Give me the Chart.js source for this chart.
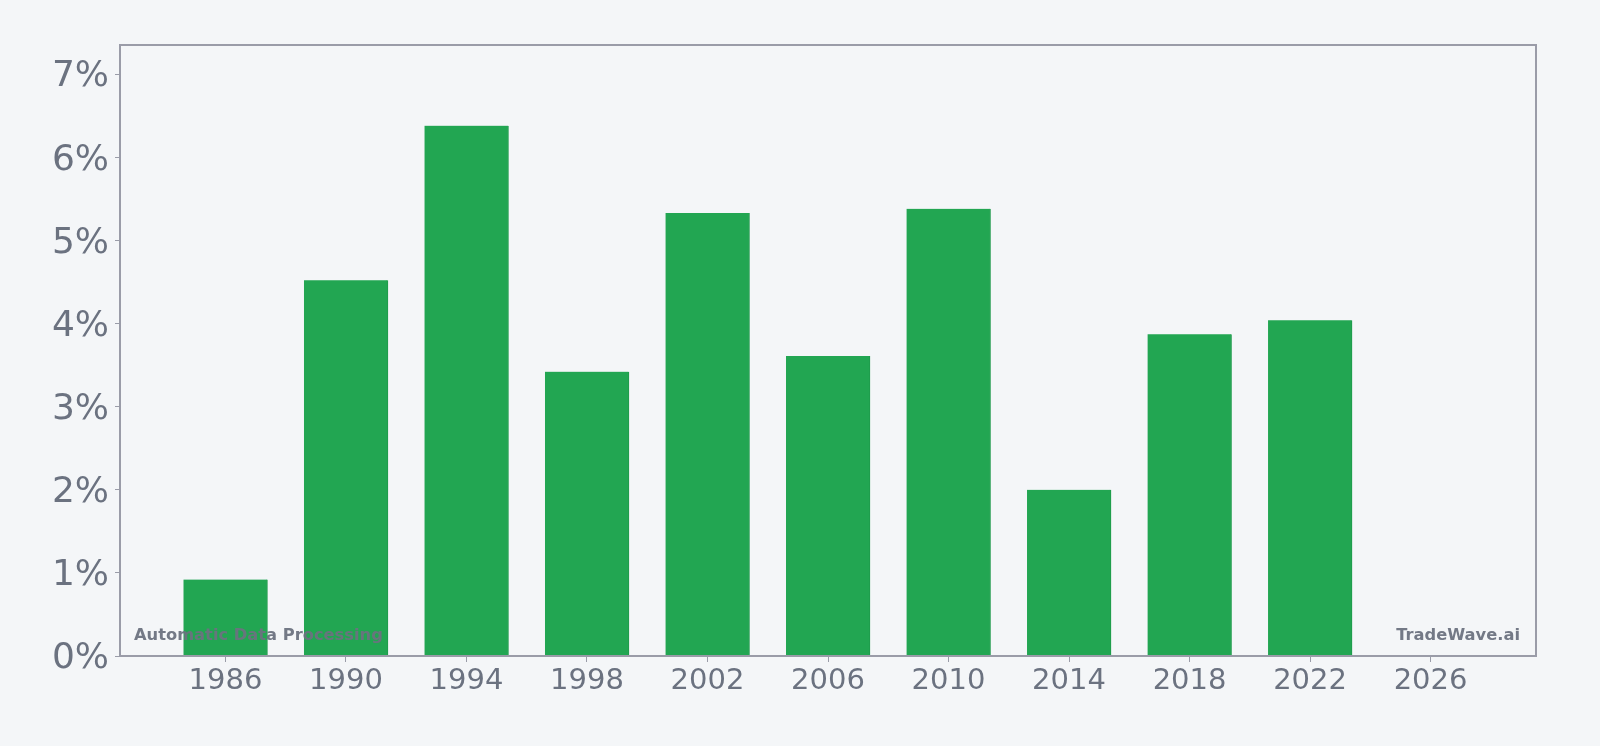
<!DOCTYPE html>
<html>
<head>
<meta charset="utf-8">
<script src="https://cdn.jsdelivr.net/npm/chart.js@4/dist/chart.umd.min.js"></script>
<style>
  html, body { margin: 0; padding: 0; background: #f4f6f8; }
  #wrap { width: 1600px; height: 746px; }
</style>
</head>
<body>
<div id="wrap"><canvas id="chart" width="1600" height="746"></canvas></div>
<script>
// data
const years = [1986, 1990, 1994, 1998, 2002, 2006, 2010, 2014, 2018, 2022];
const values = [0.92, 4.52, 6.38, 3.42, 5.33, 3.61, 5.38, 2.0, 3.87, 4.04];
const xTicks = [1986, 1990, 1994, 1998, 2002, 2006, 2010, 2014, 2018, 2022, 2026];
const yTicks = [0, 1, 2, 3, 4, 5, 6, 7];

const grey = '#6b7280';

// frame round the plot area + watermark texts
const framePlugin = {
  id: 'frame',
  afterDatasetsDraw(chart) {
    const { ctx, chartArea: a } = chart;
    ctx.save();
    ctx.strokeStyle = '#9a9ca8';
    ctx.lineWidth = 2;
    ctx.strokeRect(a.left, a.top, a.right - a.left, a.bottom - a.top);
    ctx.font = 'bold 16.3px "DejaVu Sans"';
    ctx.fillStyle = 'rgba(107,114,128,0.95)';
    ctx.textBaseline = 'alphabetic';
    ctx.textAlign = 'left';
    ctx.fillText('Automatic Data Processing', a.left + 14, a.bottom - 16);
    ctx.textAlign = 'right';
    ctx.fillText('TradeWave.ai', a.right - 16, a.bottom - 16);
    ctx.restore();
  }
};

new Chart(document.getElementById('chart'), {
  type: 'bar',
  data: {
    datasets: [{
      data: years.map((y, i) => ({ x: y, y: values[i] })),
      backgroundColor: '#22a652',
      borderColor: '#1f9a4b',
      borderWidth: { right: 1, top: 0, left: 0, bottom: 0 },
      barThickness: 84,
    }]
  },
  options: {
    responsive: false,
    animation: false,
    layout: { padding: { top: 45, right: 64, left: 0, bottom: 0 } },
    plugins: { legend: { display: false }, tooltip: { enabled: false } },
    scales: {
      x: {
        type: 'linear',
        offset: false,
        min: 1982.5,
        max: 2029.5,
        afterBuildTicks: (s) => { s.ticks = xTicks.map(v => ({ value: v })); },
        afterFit: (s) => { s.height = 90; },
        grid: { offset: false, drawOnChartArea: false, tickLength: 6, color: '#9a9ca8' },
        border: { display: false },
        ticks: {
          color: grey,
          font: { family: 'DejaVu Sans', size: 29 },
          padding: 2,
          maxRotation: 0,
          autoSkip: false,
          callback: (v) => String(v)
        }
      },
      y: {
        min: 0,
        max: 7.35,
        afterBuildTicks: (s) => { s.ticks = yTicks.map(v => ({ value: v })); },
        afterFit: (s) => { s.width = 120; },
        grid: { drawOnChartArea: false, tickLength: 5, color: '#9a9ca8' },
        border: { display: false },
        ticks: {
          color: grey,
          font: { family: 'DejaVu Sans', size: 36 },
          padding: 6,
          labelOffset: 3,
          callback: (v) => v + '%'
        }
      }
    }
  },
  plugins: [framePlugin]
});
</script>
</body>
</html>
